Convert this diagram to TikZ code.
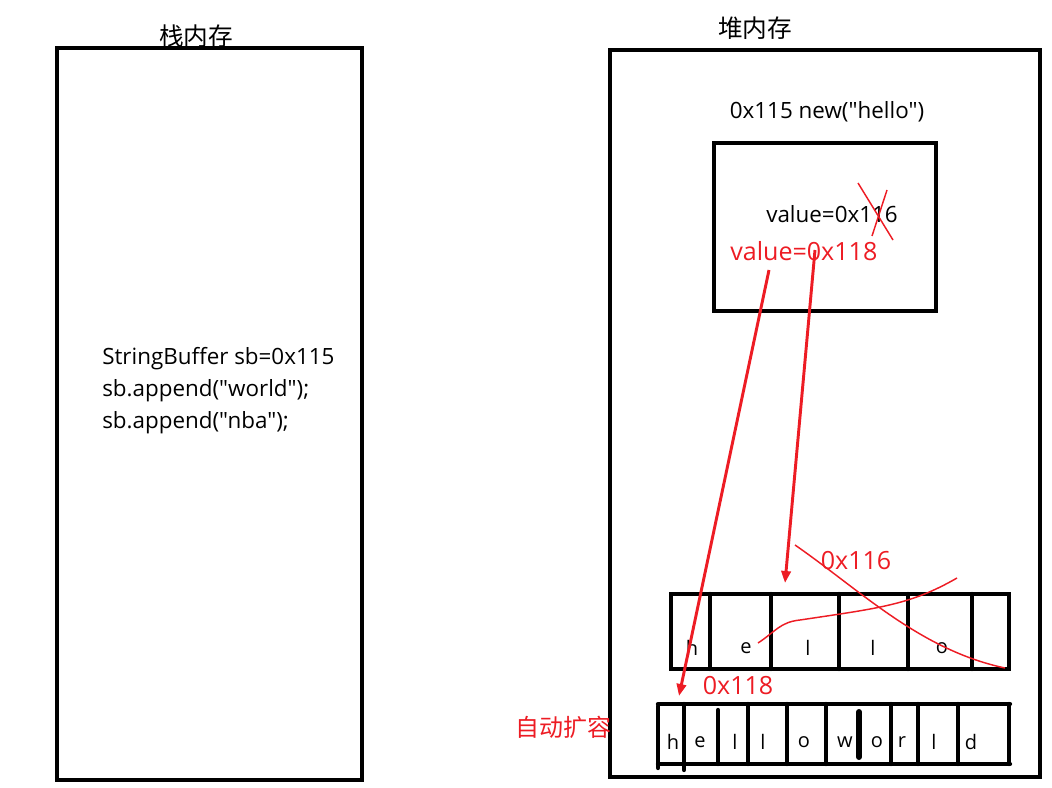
\documentclass[tikz,border=0pt]{standalone}
\usepackage{fontspec}
\setmainfont{Open Sans}[Ligatures=TeXOff]
\newfontfamily\cjk{Noto Sans CJK SC}
\usetikzlibrary{arrows.meta}
\definecolor{myred}{RGB}{237,28,36}
\tikzset{
  bigbox/.style={draw=black,line width=3.2pt},
  cellline/.style={draw=black,line width=3.2pt,line cap=round},
  txt/.style={inner sep=0pt,font=\fontsize{16.8}{24}\selectfont},
  ctitle/.style={inner sep=0pt,font=\cjk\fontsize{18.5}{20}\selectfont},
  rtxt/.style={inner sep=0pt,text=myred,font=\fontsize{18.8}{20}\selectfont},
  letter/.style={inner sep=0pt,font=\fontsize{15}{18}\selectfont},
  redline/.style={draw=myred,line width=1.1pt},
  redarrow/.style={draw=myred,line width=2.2pt,-{Triangle[length=9pt,width=7pt]}}
}
\begin{document}
\begin{tikzpicture}[x=0.75pt,y=-0.75pt]
\useasboundingbox (0,0) rectangle (1052,788);
% stack
\draw[bigbox] (57,48) rectangle (362,780);
\node[ctitle] (stacktitle) at (196,36) {栈内存};
\node[txt,anchor=west,align=left] (code) at (102,391) {StringBuffer sb=0x115\\sb.append("world");\\sb.append("nba");};
% heap
\draw[bigbox] (610,50) rectangle (1040,777);
\node[ctitle] (heaptitle) at (755,28) {堆内存};
\node[txt] (objlabel) at (827,112) {0x115 new("hello")};
\draw[bigbox] (714,143) rectangle (936,311);
\node[txt,anchor=west] (oldval) at (766,214) {value=0x116};
\node[rtxt,anchor=west] (newval) at (730,251) {value=0x118};
% cross over the "1"
\draw[redline] (858,183) -- (893,240);
\draw[redline] (887,190) -- (872,236);
% hello array
\draw[bigbox] (671,594) rectangle (1009,669);
\foreach \xx in {710,771,839,908,972} \draw[cellline] (\xx,594) -- (\xx,669);
\node[letter] (h1) at (692,648) {h};
\node[letter] (e1) at (746,648) {e};
\node[letter] (l1) at (808,648) {l};
\node[letter] (l2) at (873,648) {l};
\node[letter] (o1) at (942,648) {o};
\node[rtxt] (lab116) at (856,561) {0x116};
% strike lines
\draw[redline] (795,545) .. controls (860,590) and (920,650) .. (1005,668);
\draw[redline] (758,643) .. controls (775,632) and (780,622) .. (800,620) .. controls (880,608) and (910,605) .. (957,578);
% helloworld array
\draw[cellline] (658,704) -- (1010,704);
\draw[cellline] (658,764) -- (1010,764);
\draw[cellline] (658,706) -- (658,768);
\draw[cellline] (1009,704) -- (1009,764);
\draw[cellline] (684,704) -- (684,770);
\draw[cellline] (718,710) -- (718,764);
\foreach \xx in {748,787,826,891,918,958} \draw[cellline] (\xx,704) -- (\xx,764);
\draw[draw=black,line width=4.5pt,line cap=round] (859,712) -- (859,757);
\node[letter] (c1) at (673,742) {h};
\node[letter] (c2) at (700,742) {e};
\node[letter] (c3) at (735,742) {l};
\node[letter] (c4) at (763,742) {l};
\node[letter] (c5) at (804,742) {o};
\node[letter] (c6) at (845,742) {w};
\node[letter] (c7) at (877,742) {o};
\node[letter] (c8) at (902,742) {r};
\node[letter] (c9) at (934,742) {l};
\node[letter] (c10) at (971,742) {d};
\node[rtxt] (lab118) at (738,686) {0x118};
\node[rtxt,font=\cjk\fontsize{18}{20}\selectfont] (expand) at (563,727) {自动扩容};
% arrows
\coordinate (a1s) at (815,250);
\coordinate (a1e) at (785,583);
\coordinate (a2s) at (769,270);
\coordinate (a2e) at (679,696);
\draw[redarrow] (a1s) -- (a1e);
\draw[redarrow] (a2s) -- (a2e);
\end{tikzpicture}
\end{document}
